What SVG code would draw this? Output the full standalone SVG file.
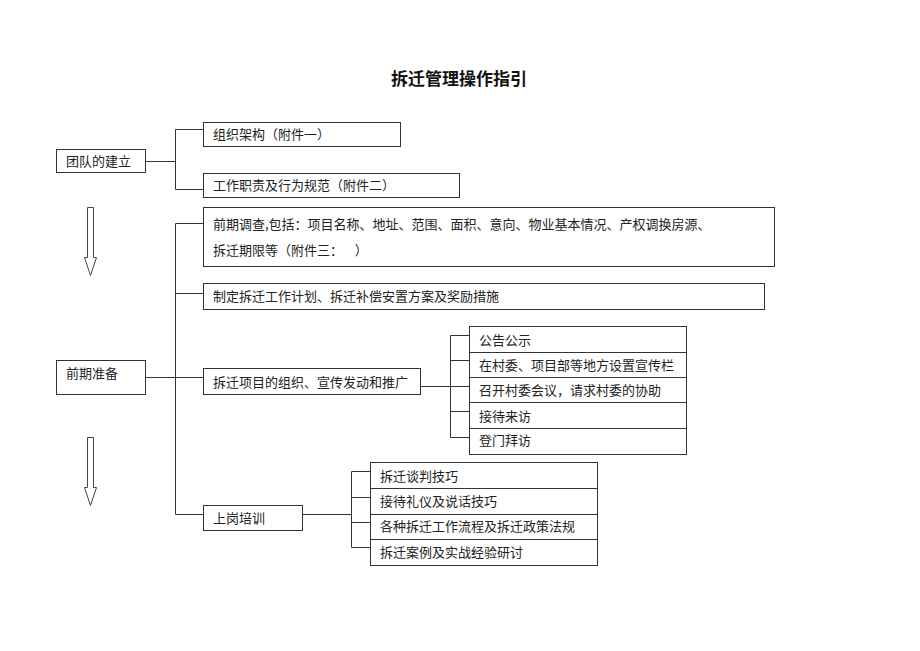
<svg xmlns="http://www.w3.org/2000/svg" width="920" height="651" viewBox="0 0 920 651">
<style>
.box{fill:#fff;stroke:#333;stroke-width:1}
.t{font-family:"Noto Sans CJK SC","Noto Sans CJK JP",sans-serif;font-size:13px;fill:#222}
.title{font-family:"Noto Sans CJK SC","Noto Sans CJK JP",sans-serif;font-size:17px;font-weight:bold;fill:#111}
.ln{fill:none;stroke:#333;stroke-width:1}
.arrow{fill:#fff;stroke:#444;stroke-width:1}
</style>
<rect width="920" height="651" fill="#fff"/>
<text class="title" x="459" y="85" text-anchor="middle">拆迁管理操作指引</text>

<g id="connectors">
<path class="ln" d="M145.5,161.5H175.5M175.5,129.5V189.5M175.5,129.5H203.5M175.5,189.5H203.5"/>
<path class="ln" d="M175.5,223.5V514.5M175.5,223.5H203.5M175.5,293.5H203.5M145.5,377.5H203.5M175.5,514.5H203.5"/>
<path class="ln" d="M420.5,386.5H469.5M450.5,335.5V437.5M450.5,335.5H469.5M450.5,360.5H469.5M450.5,411.5H469.5M450.5,437.5H469.5"/>
<path class="ln" d="M302.5,514.5H351.5M351.5,471.5V547.5M351.5,471.5H370.5M351.5,497.5H370.5M351.5,522.5H370.5M351.5,547.5H370.5"/>
</g>

<g id="arrows">
<polygon class="arrow" points="87.5,207.5 93.5,207.5 93.5,257.5 96.5,257.5 90.5,275.5 84.5,257.5 87.5,257.5"/>
<polygon class="arrow" points="87.5,437.5 93.5,437.5 93.5,487.5 96.5,487.5 90.5,505.5 84.5,487.5 87.5,487.5"/>
</g>

<g id="team">
<rect class="box" x="56.5" y="149.5" width="89" height="23"/>
<text class="t" x="66" y="165.5">团队的建立</text>
</g>
<g id="org">
<rect class="box" x="203.5" y="122.5" width="197" height="24"/>
<text class="t" x="213" y="139">组织架构（附件一）</text>
</g>
<g id="duty">
<rect class="box" x="203.5" y="173.5" width="256" height="24"/>
<text class="t" x="213" y="190">工作职责及行为规范（附件二）</text>
</g>
<g id="prep">
<rect class="box" x="56.5" y="360.5" width="89" height="34"/>
<text class="t" x="66" y="378">前期准备</text>
</g>
<g id="survey">
<rect class="box" x="203.5" y="207.5" width="571" height="59"/>
<text class="t" x="213" y="229">前期调查,包括：项目名称、地址、范围、面积、意向、物业基本情况、产权调换房源、</text>
<text class="t" x="213" y="255" xml:space="preserve">拆迁期限等（附件三：    ）</text>
</g>
<g id="plan">
<rect class="box" x="203.5" y="283.5" width="561" height="26"/>
<text class="t" x="213" y="301">制定拆迁工作计划、拆迁补偿安置方案及奖励措施</text>
</g>
<g id="promo">
<rect class="box" x="203.5" y="368.5" width="217" height="26"/>
<text class="t" x="213" y="386.5">拆迁项目的组织、宣传发动和推广</text>
</g>
<g id="promo-items">
<rect class="box" x="469.5" y="326.5" width="217" height="26"/>
<rect class="box" x="469.5" y="352.5" width="217" height="25"/>
<rect class="box" x="469.5" y="377.5" width="217" height="25"/>
<rect class="box" x="469.5" y="402.5" width="217" height="26"/>
<rect class="box" x="469.5" y="428.5" width="217" height="26"/>
<text class="t" x="479" y="345">公告公示</text>
<text class="t" x="479" y="369.5">在村委、项目部等地方设置宣传栏</text>
<text class="t" x="479" y="394.5">召开村委会议，请求村委的协助</text>
<text class="t" x="479" y="420.5">接待来访</text>
<text class="t" x="479" y="445">登门拜访</text>
</g>
<g id="train">
<rect class="box" x="203.5" y="505.5" width="99" height="25"/>
<text class="t" x="213" y="522.5">上岗培训</text>
</g>
<g id="train-items">
<rect class="box" x="370.5" y="462.5" width="227" height="26"/>
<rect class="box" x="370.5" y="488.5" width="227" height="26"/>
<rect class="box" x="370.5" y="514.5" width="227" height="25"/>
<rect class="box" x="370.5" y="539.5" width="227" height="26"/>
<text class="t" x="380" y="480.5">拆迁谈判技巧</text>
<text class="t" x="380" y="505.5">接待礼仪及说话技巧</text>
<text class="t" x="380" y="531">各种拆迁工作流程及拆迁政策法规</text>
<text class="t" x="380" y="557">拆迁案例及实战经验研讨</text>
</g>
</svg>
